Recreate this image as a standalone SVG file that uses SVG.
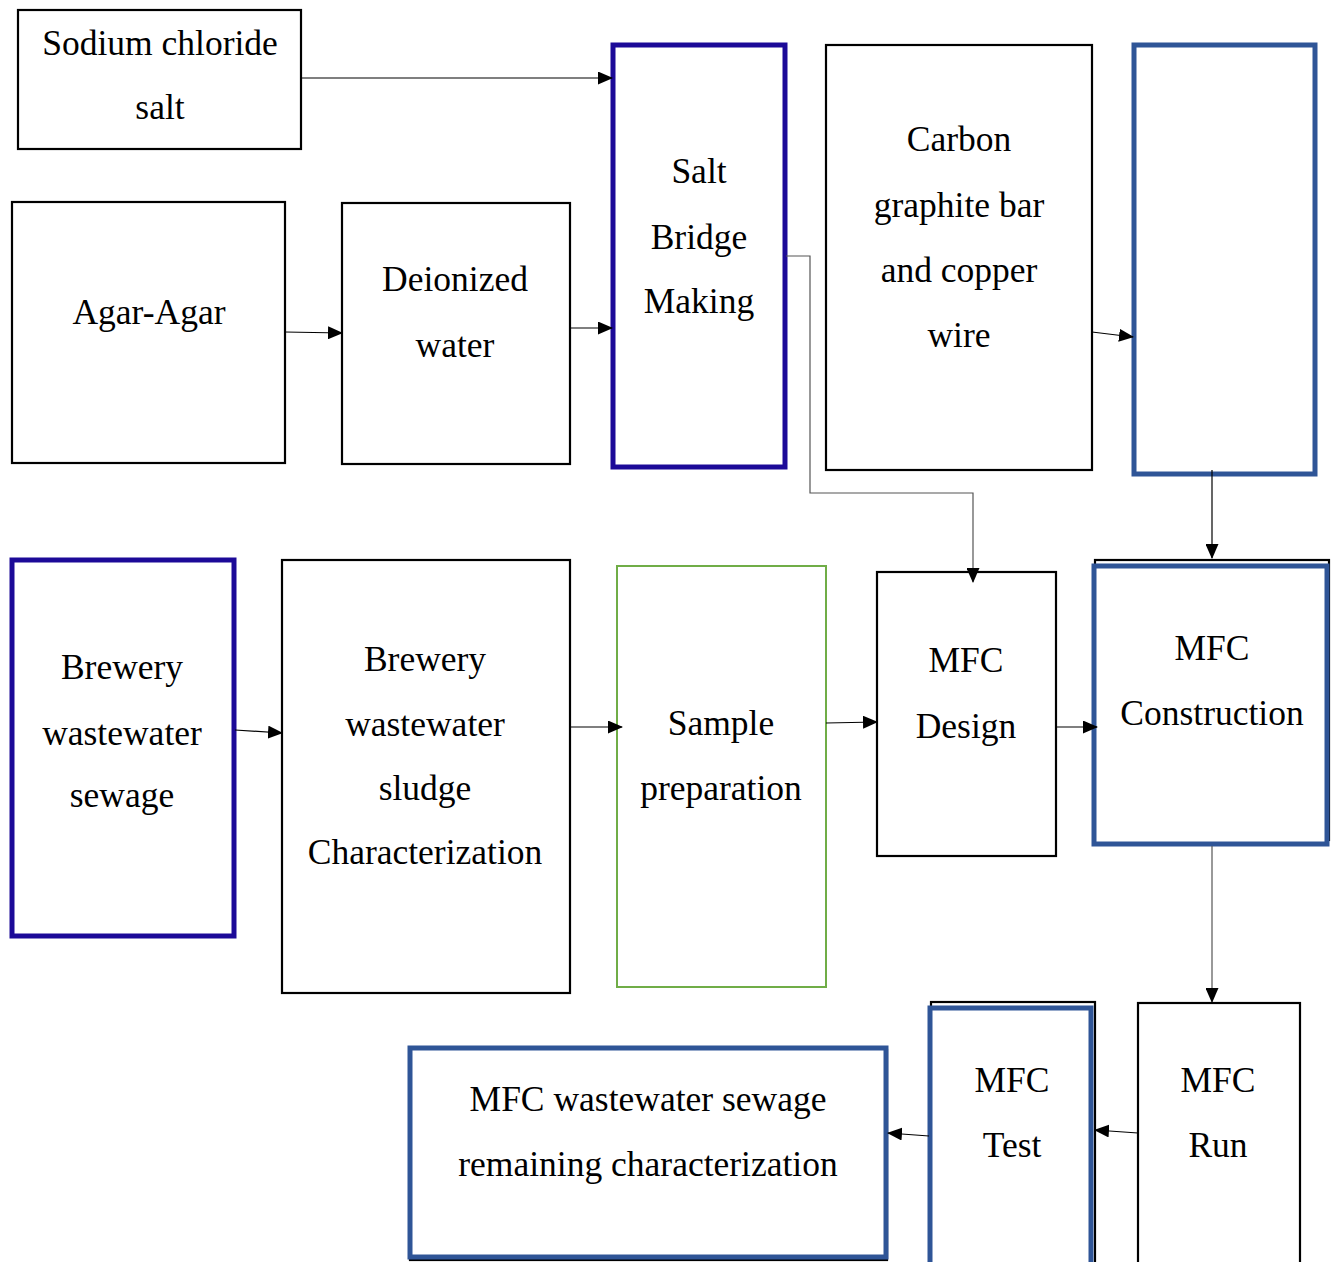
<svg xmlns="http://www.w3.org/2000/svg" width="1336" height="1262" viewBox="0 0 1336 1262">
<style>
text{font-family:"Liberation Serif","Times New Roman",serif;font-size:35.5px;fill:#000;text-anchor:middle}
.b{fill:#fff;stroke:#000;stroke-width:2.2}
.ind{fill:#fff;stroke:#1c0a98;stroke-width:5}
.stl{fill:#fff;stroke:#2f5597;stroke-width:5}
.grn{fill:#fff;stroke:#70ad47;stroke-width:2}
.c{fill:none;stroke:#000;stroke-width:1.2;marker-end:url(#ah)}
.g{fill:none;stroke:#555;stroke-width:1.2;marker-end:url(#ah)}
</style>
<defs>
<marker id="ah" viewBox="0 0 15 13" refX="14" refY="6.5" markerWidth="15" markerHeight="13" markerUnits="userSpaceOnUse" orient="auto">
<path d="M0,0L15,6.5L0,13z" fill="#000"/>
</marker>
</defs>
<rect width="1336" height="1262" fill="#fff"/>
<g id="n-sodium"><rect class="b" x="18" y="10" width="283" height="139"/><text x="160" y="55">Sodium chloride</text><text x="160" y="119">salt</text></g>
<g id="n-agar"><rect class="b" x="12" y="202" width="273" height="261"/><text x="149" y="324">Agar-Agar</text></g>
<g id="n-deion"><rect class="b" x="342" y="203" width="228" height="261"/><text x="455" y="291">Deionized</text><text x="455" y="357">water</text></g>
<g id="n-saltbridge"><rect class="ind" x="613" y="45" width="172" height="422"/><text x="699" y="183">Salt</text><text x="699" y="249">Bridge</text><text x="699" y="313">Making</text></g>
<g id="n-carbon"><rect class="b" x="826" y="45" width="266" height="425"/><text x="959" y="151">Carbon</text><text x="959" y="217">graphite bar</text><text x="959" y="282">and copper</text><text x="959" y="347">wire</text></g>
<g id="n-blank"><rect class="stl" x="1134" y="45" width="181" height="429"/></g>
<g id="n-brewery"><rect class="ind" x="12" y="560" width="222" height="376"/><text x="122" y="679">Brewery</text><text x="122" y="745">wastewater</text><text x="122" y="807">sewage</text></g>
<g id="n-sludge"><rect class="b" x="282" y="560" width="288" height="433"/><text x="425" y="671">Brewery</text><text x="425" y="736">wastewater</text><text x="425" y="800">sludge</text><text x="425" y="864">Characterization</text></g>
<g id="n-sample"><rect class="grn" x="617" y="566" width="209" height="421"/><text x="721" y="735">Sample</text><text x="721" y="800">preparation</text></g>
<g id="n-design"><rect class="b" x="877" y="572" width="179" height="284"/><text x="966" y="672">MFC</text><text x="966" y="738">Design</text></g>
<g id="n-construction"><rect class="b" x="1095" y="560" width="234" height="280"/><rect class="stl" x="1094" y="566" width="233" height="278"/><text x="1212" y="660">MFC</text><text x="1212" y="725">Construction</text></g>
<g id="n-test"><rect class="b" x="931" y="1002" width="164" height="270"/><rect class="stl" x="930" y="1008" width="161" height="264"/><text x="1012" y="1092">MFC</text><text x="1012" y="1157">Test</text></g>
<g id="n-run"><rect class="b" x="1138" y="1003" width="162" height="270"/><text x="1218" y="1092">MFC</text><text x="1218" y="1157">Run</text></g>
<g id="n-remaining"><rect class="b" x="410" y="1050" width="477" height="210"/><rect class="stl" x="410" y="1048" width="476" height="209"/><text x="648" y="1111">MFC wastewater sewage</text><text x="648" y="1176">remaining characterization</text></g>
<g id="connectors">
<path class="c" d="M301,78H612"/>
<path class="c" d="M285,332L342,333"/>
<path class="c" d="M570,328H612"/>
<path class="g" d="M786,256H810V493H973V582"/>
<path class="c" d="M1092,332L1133,337"/>
<path class="c" d="M1212,470V558"/>
<path class="c" d="M235,730L282,733"/>
<path class="c" d="M570,727H622"/>
<path class="c" d="M826,723L877,722"/>
<path class="c" d="M1056,727H1097"/>
<path class="g" d="M1212,846V1002"/>
<path class="c" d="M1138,1133L1095,1130"/>
<path class="c" d="M929,1136L888,1133"/>
</g>
</svg>
